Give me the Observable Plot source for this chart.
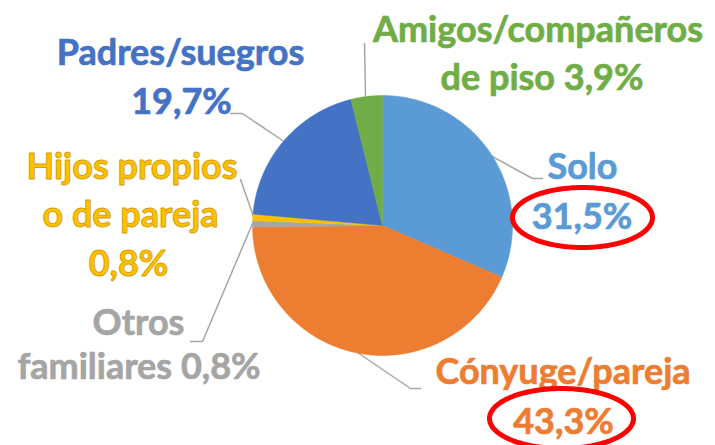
<!DOCTYPE html>
<html><head><meta charset="utf-8">
<script src="https://cdn.jsdelivr.net/npm/d3@7"></script>
<script src="https://cdn.jsdelivr.net/npm/@observablehq/plot@0.6"></script>
<style>html,body{margin:0;padding:0;background:#fff;overflow:hidden}</style>
</head><body><div id="chart"></div>
<script>
// ---- data ----
const categories = ["Solo", "Cónyuge/pareja", "Otros familiares", "Hijos propios o de pareja", "Padres/suegros", "Amigos/compañeros de piso"];
const values = [31.5, 43.3, 0.8, 0.8, 19.7, 3.9];
const colors = ["#5B9BD5", "#ED7D31", "#A5A5A5", "#FFC000", "#4472C4", "#70AD47"];
const labelLines = [
  ["Solo", "31,5%"],
  ["Cónyuge/pareja", "43,3%"],
  ["Otros", "familiares 0,8%"],
  ["Hijos propios", "o de pareja", "0,8%"],
  ["Padres/suegros", "19,7%"],
  ["Amigos/compañeros", "de piso 3,9%"]
];
const highlighted = ["Solo", "Cónyuge/pareja"];

// ---- layout (pixels) ----
const W = 715, H = 445, CX = 382, CY = 225, R = 130;
const FS = 36;
const labelXY = [
  [[582, 166.5], [581.5, 216.5]],
  [[562.5, 371.5], [563, 421.5]],
  [[138, 322.5], [138.5, 366.5]],
  [[131.5, 166.5], [130, 214.5], [128, 263.5]],
  [[180, 52.5], [181, 101.5]],
  [[537.5, 29.5], [541.5, 77.5]]
];
const leaderXY = [
  [[490, 155], [532, 178], [542, 178]],
  [[357, 352], [410, 388], [420, 388]],
  [[252, 223], [202, 341], [190, 341]],
  [[253, 216], [240, 179]],
  [[282, 140], [242, 113], [230, 113]],
  [[365, 96], [364, 43]]
];
const ellipseXY = [[582, 217, 70, 30], [561, 418, 72, 30]];

// ---- build mark data ----
const arcs = d3.pie().sort(null).value(d => d)(values);
const slicePts = [];
arcs.forEach((a, i) => {
  const cat = categories[i];
  slicePts.push({cat, x: CX, y: CY});
  const n = Math.max(4, Math.ceil((a.endAngle - a.startAngle) / 0.01));
  for (let k = 0; k <= n; k++) {
    const t = a.startAngle + (a.endAngle - a.startAngle) * k / n;
    slicePts.push({cat, x: CX + R * Math.sin(t), y: CY - R * Math.cos(t)});
  }
  slicePts.push({cat, x: CX, y: CY});
});

const texts = [];
labelLines.forEach((lines, i) => lines.forEach((s, j) => {
  texts.push({cat: categories[i], text: s, x: labelXY[i][j][0], y: labelXY[i][j][1]});
}));

const leaders = [];
leaderXY.forEach((pts, i) => pts.forEach(p => leaders.push({cat: categories[i], x: p[0], y: p[1]})));

const ell = [];
highlighted.forEach((cat, i) => {
  const [ex, ey, rx, ry] = ellipseXY[i];
  for (let k = 0; k <= 120; k++) {
    const t = 2 * Math.PI * k / 120;
    ell.push({cat, x: ex + rx * Math.cos(t), y: ey + ry * Math.sin(t)});
  }
});

const isHijos = d => d.cat === "Hijos propios o de pareja";

const chart = Plot.plot({
  width: W, height: H,
  margin: 0,
  x: {domain: [0, W], axis: null},
  y: {domain: [H, 0], axis: null},
  color: {domain: categories, range: colors},
  style: {background: "#fff", overflow: "visible"},
  marks: [
    Plot.line(leaders, {x: "x", y: "y", z: "cat", stroke: "#A6A6A6", strokeWidth: 1.5, curve: "linear"}),
    Plot.line(slicePts, {x: "x", y: "y", z: "cat", fill: "cat", stroke: "cat", strokeWidth: 0.5, curve: "linear"}),
    Plot.text(texts.filter(d => !isHijos(d)), {x: "x", y: "y", text: "text", fill: "cat",
      stroke: "cat", strokeWidth: 0.7, paintOrder: "fill",
      fontSize: FS, fontWeight: "bold", fontFamily: "Lato", lineAnchor: "middle", textAnchor: "middle"}),
    Plot.text(texts.filter(isHijos), {x: "x", y: "y", text: "text", fill: "cat",
      stroke: "#D4A000", strokeWidth: 0.9, paintOrder: "fill",
      fontSize: FS, fontWeight: "bold", fontFamily: "Lato", lineAnchor: "middle", textAnchor: "middle"}),
    Plot.line(ell, {x: "x", y: "y", z: "cat", stroke: "#FF0000", strokeWidth: 5, curve: "linear"})
  ]
});
document.getElementById("chart").appendChild(chart);
</script>
</body></html>
